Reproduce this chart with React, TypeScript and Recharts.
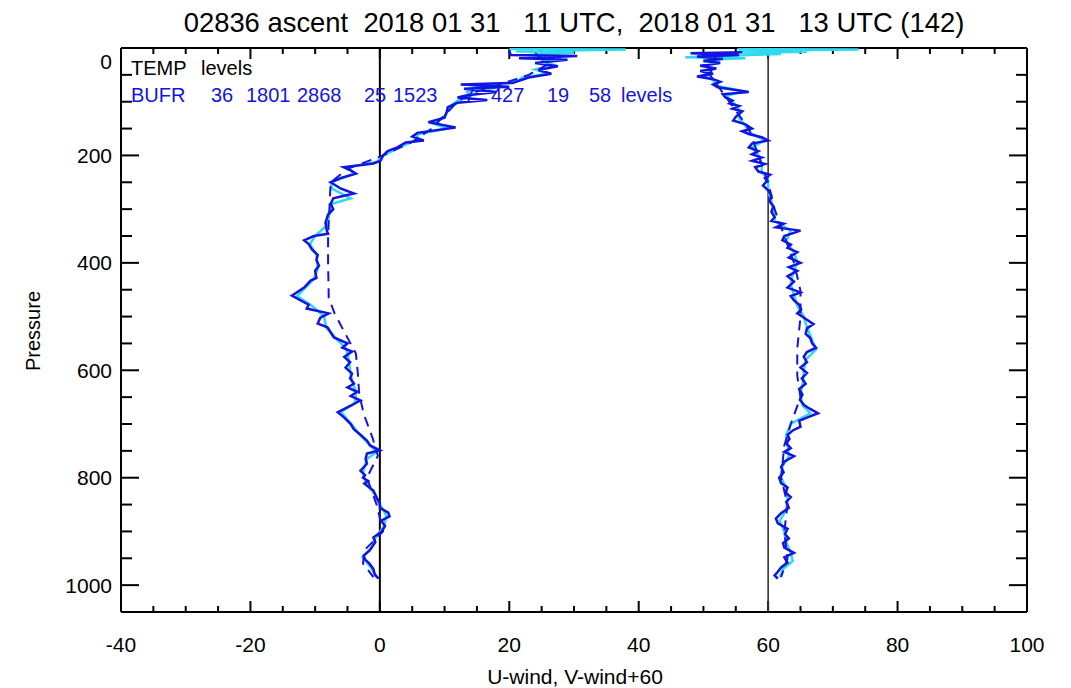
import React from 'react';
import { ScatterChart, Scatter, XAxis, YAxis, ReferenceLine } from 'recharts';

const FONT = '"Liberation Sans", Arial, Helvetica, sans-serif';
const BLUE = '#1414e0';
const CYAN = '#2fd9ee';

// pressure [hPa], wind value (U, or V+60)
const uWindCyan: [number, number][] = [
  [2, 20], [3, 38], [6, 21], [9, 30], [13, 23], [18, 28], [24, 25], [32, 27], [40, 24], [48, 26],
  [55, 22], [60, 21.5], [65, 20], [69, 14], [74, 18], [82, 13.5],
  [90, 14], [98, 12], [110, 10.8], [122, 10.3], [132, 9.5], [140, 8], [150, 10.5], [160, 6], [172, 5.5], [185, 3],
  [200, 0.6], [212, -0.5], [222, -5], [234, -4], [250, -7.6], [262, -7.4], [280, -4.5], [290, -7.4], [310, -7.8], [330, -8.2],
  [350, -10], [365, -10.8], [385, -9.8], [410, -9.6], [430, -10.2], [446, -11.5], [462, -12.8], [480, -10.5], [500, -8.6], [520, -8.3],
  [540, -6.8], [560, -5.2], [580, -4.8], [600, -4.6], [620, -4.3], [640, -3.7], [660, -3.8], [678, -6], [700, -4.4], [720, -3.1],
  [740, -1.5], [752, -0.5], [765, -2], [790, -2.6], [810, -2.2], [830, -0.8], [850, 0], [870, 1], [890, 0.7], [910, -0.6],
  [930, -1.3], [948, -2.7], [965, -1.5], [985, -0.5],
];

const uWindBufr: [number, number][] = [
  [5, 20], [13, 20.2], [15, 30.5], [19, 21.5], [22, 29], [28, 24], [34, 27.5], [41, 24.5], [48, 26.5], [55, 23],
  [61, 21.5], [65, 20.5], [68, 12.5], [72, 20], [76, 13], [82, 18], [88, 13.5], [92, 12], [97, 16.6], [102, 12],
  [110, 10.5], [120, 10.3], [130, 10],
  [138, 7.5], [148, 11.7], [158, 5.8], [165, 5], [172, 6.8], [176, 4], [185, 2.7], [192, 1.2], [200, 0.5], [210, 0.1],
  [215, -1], [222, -5.6], [228, -4.5], [234, -3.7], [242, -6], [250, -7.6], [262, -6], [271, -4], [280, -7.2], [290, -7.6],
  [300, -7.2], [310, -8], [325, -8.4], [340, -8.2], [346, -8], [350, -10.2], [358, -11.7], [365, -11], [375, -10.5], [385, -9.6],
  [395, -9.8], [405, -9.4], [415, -10], [428, -9.8], [433, -10.7], [446, -11.7], [461, -13.6], [478, -11], [485, -11.3], [494, -7.9],
  [502, -9.2], [513, -9.6], [520, -8.1], [539, -7.1], [550, -5], [558, -5.8], [565, -4.3], [575, -5.5], [585, -4.6], [595, -5.3],
  [606, -4.3], [615, -4.6], [625, -4], [632, -5], [640, -3.5], [648, -4.5], [656, -3], [666, -4.5], [678, -6.5], [688, -5.5],
  [700, -4.5], [710, -4], [720, -3], [731, -2], [740, -1.5], [749, 0], [755, -2], [765, -2.2], [774, -2], [787, -3],
  [795, -2.3], [800, -2.6], [806, -1.8], [811, -2.4], [824, -1], [837, -0.5], [848, 0], [856, 0], [865, 1.3], [872, 1.5],
  [880, 0.2], [890, 0.8], [900, 0.3], [911, -1], [920, -0.7], [936, -1.6], [945, -2.5], [952, -2.3], [960, -1.6], [970, -1],
  [980, -0.8], [988, -0.2],
];

const uWindTemp: [number, number][] = [
  [10, 24], [30, 26], [50, 23], [70, 18], [85, 14], [100, 12], [150, 8], [175, 5], [200, 0.5], [225, -5],
  [250, -7.6], [300, -7.8], [350, -8], [400, -8], [465, -7.9], [494, -7], [526, -5.6], [569, -3.7], [606, -3.4], [643, -3.2],
  [681, -2.5], [727, -1.1], [759, -0.3], [800, -2], [850, -0.5], [900, 0.5], [935, -2.4], [960, -2.6], [985, -1],
];

const vWindCyan: [number, number][] = [
  [2, 55.3], [3, 74], [5, 55.5], [7, 66], [9, 56], [11, 62], [14, 55], [17, 47.2], [19, 56.5], [22, 50],
  [26, 52.5], [32, 50.5], [40, 51.5], [50, 50], [60, 51.5], [70, 52], [80, 56], [90, 53.5], [100, 54.5], [115, 55.5],
  [130, 55.5], [145, 56.5], [160, 57.5], [172, 59.5], [185, 57.5], [200, 58.5], [215, 59], [230, 59], [245, 60], [265, 60],
  [285, 60.5], [305, 61], [322, 61], [340, 63.5], [360, 62.8], [380, 64], [400, 64.5], [420, 63.8], [440, 63.5], [460, 64],
  [480, 64.5], [500, 65.5], [520, 66], [561, 67.4], [580, 65.8], [600, 65.5], [620, 65.4], [645, 65], [665, 65.3], [680, 66.5],
  [700, 63.5], [720, 62.8], [740, 63], [760, 63.2], [780, 62.2], [800, 62], [820, 62.8], [840, 63], [860, 62.8], [880, 61.8],
  [900, 62.5], [920, 62.8], [940, 63.5], [955, 63.8], [970, 62.3], [985, 61.8],
];

const vWindBufr: [number, number][] = [
  [8, 56], [10, 48], [13, 55.5], [16, 49], [20, 53], [24, 50], [28, 52.6], [33, 49.5],
  [38, 52], [43, 49.5], [48, 51.5], [53, 49], [58, 51.5], [63, 52.6], [68, 51.5], [73, 52.2],
  [78, 55], [82, 57], [86, 53], [92, 53.4], [98, 54.5], [103, 54], [108, 55.5], [113, 54.5], [118, 56], [123, 55.5],
  [128, 55], [135, 54.6], [142, 56.5], [150, 57.5], [155, 56], [160, 57], [166, 59], [172, 60], [178, 57.5], [185, 57],
  [192, 58.5], [198, 57.5], [204, 59], [210, 57.5], [216, 59.5], [222, 58], [230, 58.5], [236, 60.3], [242, 59.5], [248, 59.8],
  [256, 59.2], [265, 60], [275, 60.5], [285, 60.2], [295, 60.8], [305, 60.5], [315, 61], [322, 60.5], [327, 62.4], [334, 61.2],
  [340, 65], [350, 62.5], [358, 62.2], [366, 63.5], [372, 63], [380, 64.5], [390, 63.2], [400, 65], [408, 63.2], [415, 64.5],
  [425, 63], [435, 64], [446, 63], [455, 65], [462, 63.5], [470, 64], [478, 64.8], [487, 65.1], [494, 64.5], [506, 66],
  [514, 67], [522, 66], [532, 65.8], [540, 66.5], [550, 66.8], [558, 67.4], [566, 66], [575, 65.5], [585, 66], [595, 65],
  [605, 66], [615, 65.2], [625, 65.8], [635, 64.8], [645, 65.3], [655, 64.9], [665, 65.6], [672, 66.5], [680, 67.7], [688, 66],
  [694, 64.8], [705, 65], [712, 63.8], [720, 63], [728, 63.3], [736, 62.8], [745, 63.5], [752, 62.5], [760, 64], [770, 62.5],
  [780, 62], [790, 62.4], [800, 61.7], [810, 62], [818, 63], [828, 62.7], [836, 63.5], [845, 62.8], [856, 63.2], [866, 62],
  [876, 61.2], [885, 61.5], [895, 63], [905, 62.6], [913, 63.2], [922, 62.3], [930, 62.5], [940, 64], [948, 62.5], [958, 63],
  [967, 62], [975, 61.5], [982, 61], [988, 61.5],
];

const vWindTemp: [number, number][] = [
  [10, 52], [50, 51], [100, 54], [150, 57], [200, 58.5], [250, 60], [300, 61], [350, 62.5], [400, 64], [452, 65],
  [500, 65], [560, 64.5], [610, 64.5], [650, 65], [700, 63.5], [740, 62.5], [800, 62], [850, 63], [900, 62.5], [950, 63],
  [985, 62],
];

const xMajorTicks = [-40, -20, 0, 20, 40, 60, 80, 100];
const xMinorTicks = [-35, -30, -25, -15, -10, -5, 5, 10, 15, 25, 30, 35, 45, 50, 55, 65, 70, 75, 85, 90, 95];
const pMajorTicks = [0, 200, 400, 600, 800, 1000];
const pMinorTicks = [50, 100, 150, 250, 300, 350, 450, 500, 550, 650, 700, 750, 850, 900, 950];

const TITLE = '02836 ascent  2018 01 31   11 UTC,  2018 01 31   13 UTC (142)';

const toPts = (a: [number, number][]) => a.map(([p, x]) => ({ p, x }));

const YTick = (props: any) => {
  const { x, y, payload } = props;
  return (
    <text x={x} y={payload.value === 0 ? y + 14 : y} dy="0.355em" textAnchor="end" fontSize={21} fontFamily={FONT} fill="#000">
      {payload.value}
    </text>
  );
};

// inward tick mark drawn at the axis' own tick position
const TickMark = (props: any) => {
  const { x, y, ox, oy } = props;
  return <line x1={x} y1={y} x2={x + ox} y2={y + oy} stroke="#000" strokeWidth={2} />;
};

// short inward marks at the top and bottom end of a vertical reference line
const xTickPair = (len: number) => (props: any) => {
  const { x1, y1, y2 } = props;
  const top = Math.min(y1, y2);
  const bot = Math.max(y1, y2);
  return (
    <g>
      <line x1={x1} y1={top} x2={x1} y2={top + len} stroke="#000" strokeWidth={2} />
      <line x1={x1} y1={bot} x2={x1} y2={bot - len} stroke="#000" strokeWidth={2} />
    </g>
  );
};

const noDot = () => <g />;

const App: React.FC = () => {
  const frame = { stroke: '#000', strokeWidth: 2 };
  const xDom: [number, number] = [-40, 100];
  const pDom: [number, number] = [0, 1050];
  const markAxis = { tickSize: 0, tickMargin: 0, tickLine: false, interval: 0 as const, allowDataOverflow: true };
  return (
    <div style={{ position: 'absolute', left: 0, top: 0, width: 1071, height: 688, background: '#fff' }}>
      <ScatterChart width={1071} height={688} margin={{ top: 47, right: 44, bottom: 75, left: 120 }}>
        {/* labelled axes */}
        <XAxis xAxisId="x" type="number" dataKey="x" domain={xDom} allowDataOverflow ticks={xMajorTicks} interval={0}
          height={1} tickSize={0} tickMargin={25} axisLine={frame} tickLine={false}
          tick={{ fontSize: 21, fill: '#000', fontFamily: FONT }} />
        <YAxis yAxisId="y" type="number" dataKey="p" reversed domain={pDom} allowDataOverflow ticks={pMajorTicks} interval={0}
          width={1} tickSize={0} tickMargin={9} axisLine={frame} tickLine={false} tick={<YTick />} />

        {/* top frame, and inward tick marks left and right */}
        <XAxis xAxisId="xt" orientation="top" type="number" domain={xDom} ticks={xMajorTicks} height={1} axisLine={frame}
          {...markAxis} tick={false} />
        <YAxis yAxisId="yl" mirror type="number" reversed domain={pDom} ticks={pMajorTicks} width={1} axisLine={false}
          {...markAxis} tick={<TickMark ox={18} oy={0} />} />
        <YAxis yAxisId="ylm" mirror type="number" reversed domain={pDom} ticks={pMinorTicks} width={1} axisLine={false}
          {...markAxis} tick={<TickMark ox={10} oy={0} />} />
        <YAxis yAxisId="yr" mirror orientation="right" type="number" reversed domain={pDom} ticks={pMajorTicks} width={1} axisLine={frame}
          {...markAxis} tick={<TickMark ox={-18} oy={0} />} />
        <YAxis yAxisId="yrm" mirror orientation="right" type="number" reversed domain={pDom} ticks={pMinorTicks} width={1} axisLine={false}
          {...markAxis} tick={<TickMark ox={-10} oy={0} />} />

        {/* x tick marks on the top and bottom frame */}
        {xMajorTicks.map((v) => (
          <ReferenceLine key={`M${v}`} xAxisId="x" yAxisId="y" x={v} shape={xTickPair(11)} />
        ))}
        {xMinorTicks.map((v) => (
          <ReferenceLine key={`m${v}`} xAxisId="x" yAxisId="y" x={v} shape={xTickPair(6)} />
        ))}

        <ReferenceLine xAxisId="x" yAxisId="y" x={0} stroke="#000" strokeWidth={2} />
        <ReferenceLine xAxisId="x" yAxisId="y" x={60} stroke="#333" strokeWidth={1.6} />

        <Scatter xAxisId="x" yAxisId="y" data={toPts(uWindCyan)} fill={CYAN} shape={noDot} isAnimationActive={false}
          line={{ stroke: CYAN, strokeWidth: 2.5 }} lineType="joint" />
        <Scatter xAxisId="x" yAxisId="y" data={toPts(vWindCyan)} fill={CYAN} shape={noDot} isAnimationActive={false}
          line={{ stroke: CYAN, strokeWidth: 2.5 }} lineType="joint" />
        <Scatter xAxisId="x" yAxisId="y" data={toPts(uWindBufr)} fill={BLUE} shape={noDot} isAnimationActive={false}
          line={{ stroke: BLUE, strokeWidth: 2.5 }} lineType="joint" />
        <Scatter xAxisId="x" yAxisId="y" data={toPts(vWindBufr)} fill={BLUE} shape={noDot} isAnimationActive={false}
          line={{ stroke: BLUE, strokeWidth: 2.5 }} lineType="joint" />
        <Scatter xAxisId="x" yAxisId="y" data={toPts(uWindTemp)} fill={BLUE} shape={noDot} isAnimationActive={false}
          line={{ stroke: BLUE, strokeWidth: 2, strokeDasharray: '10 7' }} lineType="joint" />
        <Scatter xAxisId="x" yAxisId="y" data={toPts(vWindTemp)} fill={BLUE} shape={noDot} isAnimationActive={false}
          line={{ stroke: BLUE, strokeWidth: 2, strokeDasharray: '10 7' }} lineType="joint" />
      </ScatterChart>

      <svg width={1071} height={688} style={{ position: 'absolute', left: 0, top: 0, pointerEvents: 'none' }} fontFamily={FONT}>
        <text x={574} y={32} fontSize={27.4} fill="#000" textAnchor="middle" style={{ whiteSpace: 'pre' }}>
          {TITLE}
        </text>
        <text y={75} fontSize={20} fill="#000">
          <tspan x={131}>TEMP</tspan>
          <tspan x={201}>levels</tspan>
        </text>
        <text y={102} fontSize={20} fill={BLUE}>
          <tspan x={131}>BUFR</tspan>
          <tspan x={211}>36</tspan>
          <tspan x={246}>1801</tspan>
          <tspan x={297}>2868</tspan>
          <tspan x={364}>25</tspan>
          <tspan x={393}>1523</tspan>
          <tspan x={464}>7</tspan>
          <tspan x={491}>427</tspan>
          <tspan x={547}>19</tspan>
          <tspan x={589}>58</tspan>
          <tspan x={621}>levels</tspan>
        </text>
        <text x={33} y={331} fontSize={20} fill="#000" textAnchor="middle" dy="0.35em" transform="rotate(-90 33 331)">
          Pressure
        </text>
        <text x={575} y={684} fontSize={21} fill="#000" textAnchor="middle">
          U-wind, V-wind+60
        </text>
      </svg>
    </div>
  );
};

export default App;
